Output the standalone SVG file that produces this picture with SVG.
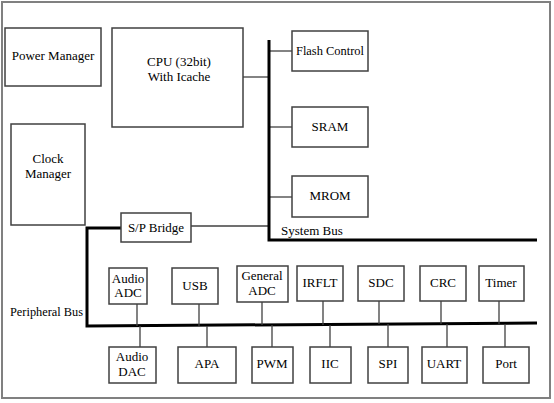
<svg xmlns="http://www.w3.org/2000/svg" width="554" height="403" viewBox="0 0 554 403">
<style>
.box{fill:#fff;stroke:#404040;stroke-width:1.5}
.t{text-anchor:middle}
.c{stroke:#404040;stroke-width:1.3;fill:none}
.bus{stroke:#000;stroke-width:3;fill:none}
</style>
<rect x="0" y="0" width="554" height="403" fill="#fff"/>
<rect x="2" y="2" width="548" height="396" fill="none" stroke="#808080" stroke-width="2"/>
<g id="connectors">
<line class="c" x1="243" y1="77" x2="269" y2="77"/>
<line class="c" x1="269" y1="51" x2="292" y2="51"/>
<line class="c" x1="269" y1="127" x2="292" y2="127"/>
<line class="c" x1="269" y1="197" x2="292" y2="197"/>
<line class="c" x1="191" y1="226" x2="269" y2="226"/>
<polyline class="bus" points="269,40 269,240 537,240"/>
<polyline class="bus" points="121,228 87,228 87,326 537,323"/>
<line class="c" x1="137" y1="304" x2="137" y2="326"/>
<line class="c" x1="199" y1="304" x2="199" y2="326"/>
<line class="c" x1="262" y1="302" x2="262" y2="325"/>
<line class="c" x1="323" y1="301" x2="323" y2="325"/>
<line class="c" x1="379" y1="301" x2="379" y2="324"/>
<line class="c" x1="441" y1="301" x2="441" y2="324"/>
<line class="c" x1="499" y1="301" x2="499" y2="324"/>
<line class="c" x1="140" y1="326" x2="140" y2="347"/>
<line class="c" x1="207" y1="326" x2="207" y2="347"/>
<line class="c" x1="272" y1="325" x2="272" y2="347"/>
<line class="c" x1="330" y1="325" x2="330" y2="347"/>
<line class="c" x1="388" y1="324" x2="388" y2="347"/>
<line class="c" x1="447" y1="324" x2="447" y2="347"/>
<line class="c" x1="505" y1="324" x2="505" y2="347"/>
</g>
<g font-family="'Liberation Serif', 'Times New Roman', serif" font-size="13" fill="#000">
<g id="power"><rect class="box" x="5" y="28" width="96" height="58"/><text class="t" x="53" y="60">Power Manager</text></g>
<g id="cpu"><rect class="box" x="112" y="28" width="131" height="99"/><text class="t" x="179" y="66">CPU (32bit)</text><text class="t" x="179" y="81">With Icache</text></g>
<g id="clock"><rect class="box" x="11" y="124" width="74" height="101"/><text class="t" x="48" y="163">Clock</text><text class="t" x="48" y="178">Manager</text></g>
<g id="flash"><rect class="box" x="292" y="31" width="76" height="40"/><text class="t" x="330" y="55" textLength="68" lengthAdjust="spacingAndGlyphs">Flash Control</text></g>
<g id="sram"><rect class="box" x="292" y="107" width="76" height="40"/><text class="t" x="330" y="131">SRAM</text></g>
<g id="mrom"><rect class="box" x="292" y="176" width="76" height="41"/><text class="t" x="330" y="200">MROM</text></g>
<text x="281" y="235">System Bus</text>
<g id="bridge"><rect class="box" x="121" y="213" width="70" height="29"/><text class="t" x="156" y="232">S/P Bridge</text></g>
<text x="10" y="316" textLength="73" lengthAdjust="spacingAndGlyphs">Peripheral Bus</text>
<g id="audioadc"><rect class="box" x="109" y="268" width="38" height="36"/><text class="t" x="128" y="283">Audio</text><text class="t" x="128" y="297">ADC</text></g>
<g id="usb"><rect class="box" x="172" y="268" width="46" height="36"/><text class="t" x="195" y="290">USB</text></g>
<g id="genadc"><rect class="box" x="237" y="266" width="51" height="36"/><text class="t" x="262" y="280">General</text><text class="t" x="262" y="295">ADC</text></g>
<g id="irflt"><rect class="box" x="297" y="266" width="46" height="35"/><text class="t" x="320" y="287">IRFLT</text></g>
<g id="sdc"><rect class="box" x="358" y="266" width="46" height="35"/><text class="t" x="381" y="287">SDC</text></g>
<g id="crc"><rect class="box" x="420" y="266" width="46" height="35"/><text class="t" x="443" y="287">CRC</text></g>
<g id="timer"><rect class="box" x="479" y="266" width="45" height="35"/><text class="t" x="501" y="287">Timer</text></g>
<g id="audiodac"><rect class="box" x="109" y="347" width="47" height="36"/><text class="t" x="132" y="361">Audio</text><text class="t" x="132" y="376">DAC</text></g>
<g id="apa"><rect class="box" x="178" y="347" width="58" height="36"/><text class="t" x="207" y="368">APA</text></g>
<g id="pwm"><rect class="box" x="252" y="347" width="41" height="36"/><text class="t" x="272" y="368">PWM</text></g>
<g id="iic"><rect class="box" x="310" y="347" width="41" height="36"/><text class="t" x="330" y="368">IIC</text></g>
<g id="spi"><rect class="box" x="368" y="347" width="40" height="36"/><text class="t" x="388" y="368">SPI</text></g>
<g id="uart"><rect class="box" x="422" y="347" width="45" height="36"/><text class="t" x="444" y="368">UART</text></g>
<g id="port"><rect class="box" x="483" y="347" width="46" height="36"/><text class="t" x="506" y="368">Port</text></g>
</g>
</svg>
